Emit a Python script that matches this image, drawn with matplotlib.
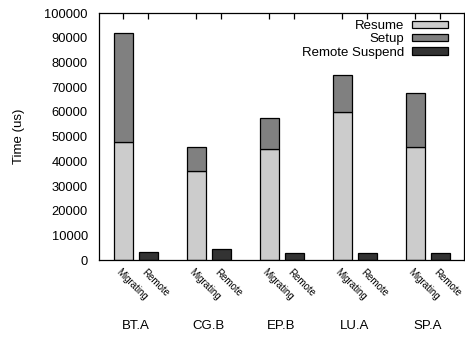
import numpy as np
import matplotlib.pyplot as plt
from matplotlib.patches import Patch

plt.rcParams['font.family'] = ['Liberation Sans', 'DejaVu Sans']

# 每个基准程序的时间数据 (us)
benchmarks = ['BT.A', 'CG.B', 'EP.B', 'LU.A', 'SP.A']
resume = [48000, 36000, 45000, 60000, 46000]
setup = [44000, 10000, 12500, 15000, 21500]
remote_suspend = [3400, 4500, 3100, 3100, 2800]
bar_names = ['Migrating', 'Remote']

c_resume = '#cccccc'
c_setup = '#808080'
c_suspend = '#333333'

fig = plt.figure(figsize=(4.65, 3.37), dpi=100)
ax = fig.add_axes([0.213, 0.228, 0.785, 0.733])

x = np.arange(len(benchmarks))
off = 0.171
w = 0.26

ax.bar(x - off, resume, w, color=c_resume, edgecolor='black', lw=0.9)
ax.bar(x - off, setup, w, bottom=resume, color=c_setup, edgecolor='black', lw=0.9)
ax.bar(x + off, remote_suspend, w, color=c_suspend, edgecolor='black', lw=0.9)

ax.set_xlim(-0.5, 4.5)
ax.set_ylim(0, 100000)
ax.set_yticks(np.arange(0, 100001, 10000))
ax.tick_params(axis='y', length=0, labelsize=9.3, pad=8)

# 顶部刻度线向内
ticks = np.sort(np.concatenate([x - off, x + off]))
ax.set_xticks(ticks)
ax.set_xticklabels([])
ax.tick_params(axis='x', top=True, bottom=False, direction='in', length=4, width=0.9)
for s in ax.spines.values():
    s.set_linewidth(0.9)

# 斜着的柱子标签与下方的组名
for i, name in enumerate(benchmarks):
    for j, xx in enumerate([x[i] - off, x[i] + off]):
        ax.text(xx - 0.02, -2800, bar_names[j], rotation=-45, rotation_mode='anchor',
                ha='left', va='top', fontsize=7)
    ax.text(x[i], -26500, name, ha='center', va='center', fontsize=9.5)

ax.set_ylabel('Time (us)', fontsize=9.5, labelpad=14)

handles = [Patch(facecolor=c_resume, edgecolor='black', lw=0.9),
           Patch(facecolor=c_setup, edgecolor='black', lw=0.9),
           Patch(facecolor=c_suspend, edgecolor='black', lw=0.9)]
ax.legend(handles, ['Resume', 'Setup', 'Remote Suspend'], loc='upper right',
          bbox_to_anchor=(0.956, 0.972), frameon=False, markerfirst=False,
          fontsize=9.5, handlelength=2.7, handleheight=0.45, labelspacing=0.1,
          handletextpad=0.6, borderaxespad=0, borderpad=0)

plt.savefig('out.png', dpi=100)
